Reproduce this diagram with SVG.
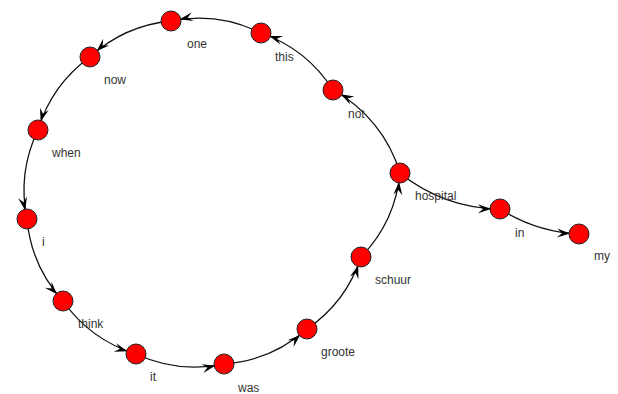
<svg xmlns="http://www.w3.org/2000/svg" width="618" height="394" viewBox="0 0 618 394">
<style>
.edge{fill:none;stroke:#111;stroke-width:1.3;marker-end:url(#arr)}
.node circle{fill:#ff0000;stroke:#222;stroke-width:1}
.node text{font-family:"Liberation Sans",Arial,sans-serif;font-size:12px;fill:#333}
</style>
<defs>
<marker id="arr" markerUnits="userSpaceOnUse" markerWidth="24" markerHeight="10" refX="22" refY="5" orient="auto" overflow="visible">
<path d="M0,0.5 L13,5 L0,9.5 L5,5 Z" fill="#000"/>
</marker>
</defs>
<rect width="618" height="394" fill="#fff"/>
<g id="edges">
<path class="edge" d="M400,173 A140,140 0 0 0 333,90"/>
<path class="edge" d="M333,90 A140,140 0 0 0 261,33"/>
<path class="edge" d="M261,33 A140,140 0 0 0 171,21"/>
<path class="edge" d="M171,21 A140,140 0 0 0 90,57"/>
<path class="edge" d="M90,57 A140,140 0 0 0 38,130"/>
<path class="edge" d="M38,130 A140,140 0 0 0 27,219"/>
<path class="edge" d="M27,219 A140,140 0 0 0 63,301"/>
<path class="edge" d="M63,301 A140,140 0 0 0 136,354"/>
<path class="edge" d="M136,354 A140,140 0 0 0 224,364"/>
<path class="edge" d="M224,364 A140,140 0 0 0 307,329"/>
<path class="edge" d="M307,329 A140,140 0 0 0 361,257"/>
<path class="edge" d="M361,257 A140,140 0 0 0 400,173"/>
<path class="edge" d="M400,173 A160,160 0 0 0 500,209"/>
<path class="edge" d="M500,209 A160,160 0 0 0 579,234"/>
</g>
<g id="n-hospital" class="node"><circle cx="400" cy="173" r="10"/><text x="415" y="200">hospital</text></g>
<g id="n-not" class="node"><circle cx="333" cy="90" r="10"/><text x="348" y="118">not</text></g>
<g id="n-this" class="node"><circle cx="261" cy="33" r="10"/><text x="275" y="61">this</text></g>
<g id="n-one" class="node"><circle cx="171" cy="21" r="10"/><text x="187" y="48">one</text></g>
<g id="n-now" class="node"><circle cx="90" cy="57" r="10"/><text x="104" y="84">now</text></g>
<g id="n-when" class="node"><circle cx="38" cy="130" r="10"/><text x="52" y="157">when</text></g>
<g id="n-i" class="node"><circle cx="27" cy="219" r="10"/><text x="42" y="246">i</text></g>
<g id="n-think" class="node"><circle cx="63" cy="301" r="10"/><text x="78" y="328">think</text></g>
<g id="n-it" class="node"><circle cx="136" cy="354" r="10"/><text x="150" y="381">it</text></g>
<g id="n-was" class="node"><circle cx="224" cy="364" r="10"/><text x="238" y="392">was</text></g>
<g id="n-groote" class="node"><circle cx="307" cy="329" r="10"/><text x="321" y="356">groote</text></g>
<g id="n-schuur" class="node"><circle cx="361" cy="257" r="10"/><text x="375" y="284">schuur</text></g>
<g id="n-in" class="node"><circle cx="500" cy="209" r="10"/><text x="515" y="237">in</text></g>
<g id="n-my" class="node"><circle cx="579" cy="234" r="10"/><text x="594" y="260">my</text></g>
</svg>
